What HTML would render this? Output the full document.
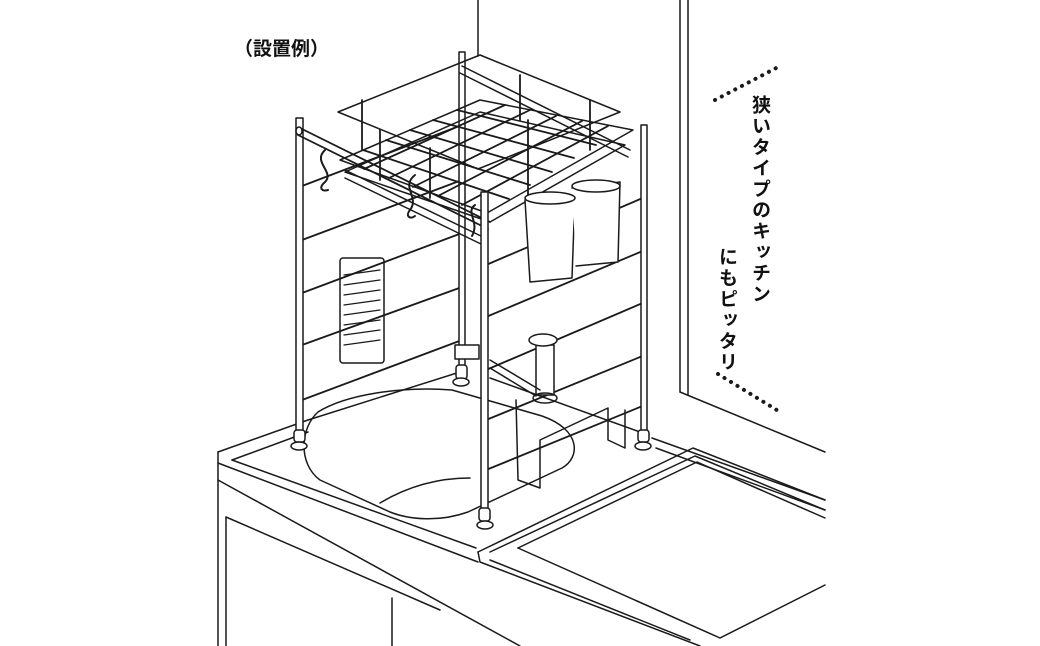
<!DOCTYPE html>
<html><head><meta charset="utf-8"><style>
html,body{margin:0;padding:0;background:#fff;}
.wrap{position:relative;width:1040px;height:646px;overflow:hidden;background:#fff;}
svg{position:absolute;left:0;top:0;}
.t{position:absolute;font-family:"Liberation Sans","Noto Sans CJK JP",sans-serif;color:#111;font-weight:bold;}
.v{writing-mode:vertical-rl;font-size:19px;letter-spacing:2px;line-height:1;}
</style></head><body><div class="wrap">
<svg width="1040" height="646" viewBox="0 0 1040 646" fill="none" stroke="#1a1a1a" stroke-width="1.5" stroke-linecap="round" stroke-linejoin="round">
<!-- walls -->
<line x1="478" y1="0" x2="478" y2="56"/>
<line x1="680" y1="0" x2="680" y2="392"/>
<line x1="688" y1="0" x2="688" y2="395"/>
<line x1="680" y1="392" x2="825" y2="452"/>
<!-- counter -->
<line x1="218" y1="452" x2="218" y2="646"/>
<line x1="218" y1="452" x2="308" y2="420"/>
<line x1="232" y1="460" x2="308" y2="432"/>
<line x1="218" y1="463" x2="478" y2="562"/>
<line x1="232" y1="460" x2="476" y2="548"/>
<line x1="218" y1="480" x2="520" y2="646"/>
<line x1="226" y1="517" x2="226" y2="646"/>
<line x1="226" y1="517" x2="440" y2="610"/>
<line x1="392" y1="598" x2="392" y2="646"/>
<line x1="308" y1="420" x2="460" y2="372"/>
<line x1="490" y1="378" x2="640" y2="432"/>
<line x1="652" y1="438" x2="825" y2="500"/>
<line x1="656" y1="448" x2="825" y2="510"/>
<!-- sink -->
<path d="M318,412 C345,395 400,386 452,390 L542,416 C582,430 580,458 562,468 L468,512 C440,522 410,520 390,512 L320,480 C298,464 300,428 318,412 Z"/>
<path d="M380,503 C410,485 440,478 470,478"/>
<!-- cutting board -->
<path d="M478,552 L693,448 L825,500"/>
<path d="M478,552 L480,562 L700,646"/>
<path d="M490,552 L695,456 L825,510"/>
<path d="M490,560 L690,640"/>
<path d="M518,548 L697,462 L825,518"/>
<path d="M518,548 L720,638 L825,585"/>
<!-- rack wires back -->
<g stroke-width="1.8">
<line x1="302" y1="186" x2="462" y2="125"/>
<line x1="302" y1="240" x2="462" y2="180"/>
<line x1="302" y1="293" x2="462" y2="233"/>
<line x1="302" y1="345" x2="462" y2="287"/>
<line x1="302" y1="400" x2="462" y2="340"/>
<line x1="486" y1="265" x2="645" y2="197"/>
<line x1="486" y1="317" x2="645" y2="250"/>
<line x1="486" y1="370" x2="645" y2="302"/>
<line x1="486" y1="420" x2="645" y2="355"/>
<line x1="486" y1="470" x2="645" y2="405"/>
</g>
<!-- poles -->
<g fill="#fff">
<rect x="459" y="52" width="6" height="318"/>
<rect x="456" y="365" width="11" height="14" rx="3"/>
<ellipse cx="461" cy="382" rx="8" ry="4"/>
<rect x="296" y="118" width="7" height="318"/>
<rect x="294" y="430" width="11" height="12" rx="3"/>
<ellipse cx="299" cy="446" rx="8" ry="4"/>
<rect x="641" y="125" width="6" height="310"/>
<rect x="638" y="430" width="11" height="12" rx="3"/>
<ellipse cx="643" cy="446" rx="8" ry="4"/>
</g>
<!-- faucet -->
<rect x="536" y="345" width="18" height="50" fill="#fff"/>
<ellipse cx="543" cy="340" rx="14" ry="6" fill="#fff"/>
<ellipse cx="545" cy="398" rx="12" ry="5"/>
<line x1="490" y1="360" x2="540" y2="390"/>
<line x1="490" y1="368" x2="536" y2="396"/>
<rect x="455" y="345" width="24" height="14" fill="#fff"/>
<!-- lid stand -->
<polyline points="516,400 518,480 540,488 540,440 608,408 608,440 625,448 625,410"/>
<!-- top rack -->
<polygon points="338,112 480,55 620,112 478,169"/>
<polygon points="340,160 480,100 633,130 487,213"/>
<polygon points="345,172 480,112 625,145 490,222"/>
<g stroke-width="1.8">
<line x1="363" y1="150" x2="509" y2="199"/><line x1="386" y1="140" x2="530" y2="185"/>
<line x1="410" y1="130" x2="552" y2="172"/><line x1="433" y1="120" x2="574" y2="158"/>
<line x1="457" y1="110" x2="596" y2="145"/>
<line x1="364" y1="169" x2="505" y2="105"/><line x1="389" y1="178" x2="530" y2="110"/>
<line x1="413" y1="187" x2="556" y2="116"/><line x1="438" y1="196" x2="582" y2="121"/>
<line x1="462" y1="205" x2="608" y2="126"/>
<line x1="362" y1="100" x2="362" y2="150"/><line x1="380" y1="130" x2="380" y2="180"/>
<line x1="430" y1="148" x2="430" y2="198"/><line x1="520" y1="75" x2="520" y2="120"/>
<line x1="528" y1="120" x2="528" y2="200"/><line x1="590" y1="100" x2="590" y2="150"/>
</g>
<!-- front rod -->
<path d="M300,128 L490,222 M298,135 L488,229" stroke-width="1.8"/>
<path d="M345,170 L485,238 M345,178 L483,245"/>
<ellipse cx="299" cy="131" rx="3" ry="4" fill="#fff"/>
<path d="M462,66 L630,150 M460,73 L628,157"/>
<!-- hooks -->
<g stroke-width="2">
<path d="M325,150 C312,162 335,172 325,182 C318,188 322,192 328,190"/>
<path d="M415,175 C400,187 420,197 410,210 C405,216 410,220 415,216"/>
<path d="M475,205 C465,212 480,222 472,236"/>
</g>
<!-- front pole -->
<g fill="#fff">
<rect x="481" y="192" width="7" height="322"/>
<rect x="479" y="508" width="11" height="13" rx="3"/>
<ellipse cx="485" cy="525" rx="8" ry="4"/>
</g>
<!-- cups -->
<path d="M525,200 L575,195 L572,278 L530,282 Z" fill="#fff"/>
<path d="M572,188 L620,182 L618,262 L576,266" fill="#fff"/>
<ellipse cx="550" cy="198" rx="25" ry="6" fill="#fff"/>
<ellipse cx="596" cy="186" rx="24" ry="6" fill="#fff"/>
<!-- hanging rack -->
<rect x="340" y="258" width="44" height="105" rx="3"/>
<g stroke-width="1.2">
<line x1="344" y1="275" x2="380" y2="270"/><line x1="344" y1="285" x2="380" y2="280"/>
<line x1="344" y1="295" x2="380" y2="290"/><line x1="344" y1="305" x2="380" y2="300"/>
<line x1="344" y1="315" x2="380" y2="310"/><line x1="344" y1="325" x2="380" y2="320"/>
<line x1="344" y1="335" x2="380" y2="330"/><line x1="344" y1="345" x2="380" y2="340"/>
</g>
<!-- dots -->
<line x1="715" y1="100" x2="780" y2="66" stroke-width="4" stroke-dasharray="0.1 7.5"/>
<line x1="718" y1="374" x2="780" y2="412" stroke-width="4" stroke-dasharray="0.1 7.5"/>
</svg>
<div class="t" style="left:234px;top:34px;font-size:19px;">（設置例）</div>
<div class="t v" style="left:750px;top:95px;">狭いタイプのキッチン</div>
<div class="t v" style="left:717px;top:247px;">にもピッタリ</div>
</div></body></html>
